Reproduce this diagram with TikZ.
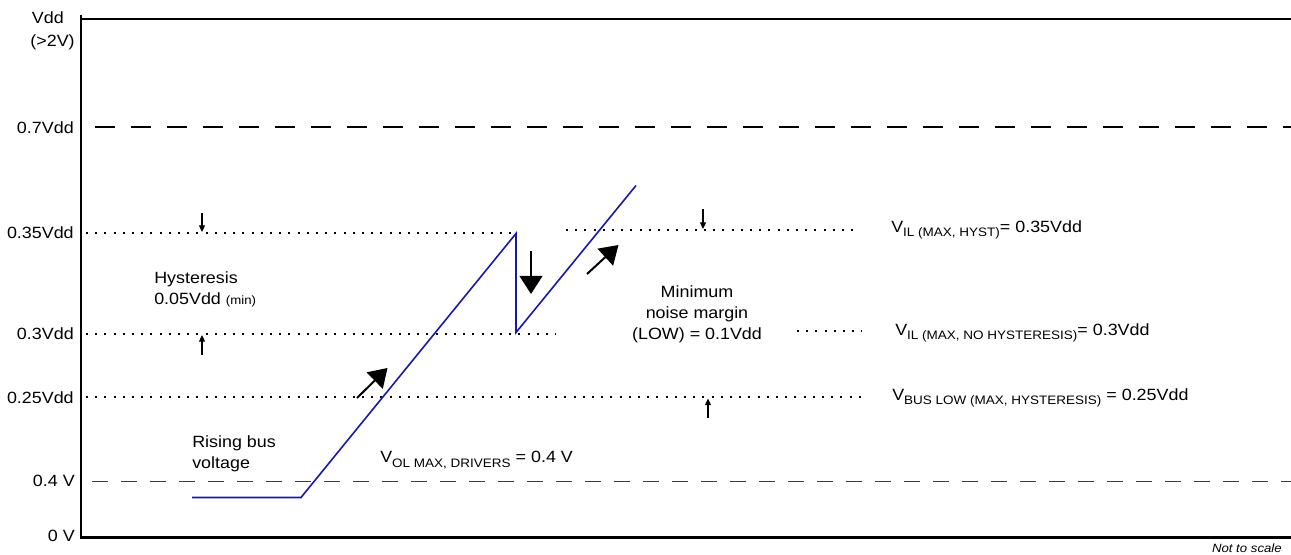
\documentclass[tikz,border=0pt]{standalone}
\usepackage{fontspec}
\setmainfont{Liberation Sans}
\usetikzlibrary{arrows.meta}
\definecolor{wave}{RGB}{25,25,165}
\definecolor{dashgray}{RGB}{60,60,60}
\newcommand\lsub[1]{\raisebox{-0.5ex}{\fontsize{9.2}{10}\selectfont #1}}
\begin{document}
\begin{tikzpicture}[x=0.75pt,y=-0.75pt,
  lbl/.style={font=\fontsize{12.2}{15.75}\selectfont, inner sep=0pt, xscale=1.1, transform shape},
  note/.style={font=\fontsize{9}{10}\selectfont\itshape, inner sep=0pt, xscale=1.1, transform shape},
  axisline/.style={line width=1.9pt},
  dotline/.style={line width=1.5pt, dash pattern=on 1.5pt off 5.4pt},
  bigdash/.style={line width=1.5pt, dash pattern=on 15pt off 12pt},
  smalldash/.style={line width=1.1pt, dashgray, dash pattern=on 12pt off 9.75pt},
  wavepath/.style={wave, line width=1.2pt},
  bigarrow/.style={line width=1.5pt, -{Triangle[length=13.5pt,width=17pt]}},
  tinyarrow/.style={line width=0.8pt, -{Triangle[length=5pt,width=4.5pt]}}
]
\useasboundingbox (0,0) rectangle (1291,555);

% axes
\coordinate (axtop) at (81,15);
\coordinate (axorig) at (81,537.5);
\coordinate (topend) at (1291,19);
\coordinate (botend) at (1291,537.5);
\draw[axisline] (axtop) -- (axorig) -- (botend);
\draw[axisline] (81,19) -- (topend);

% level lines
\draw[bigdash] (95,127) -- (1291,127);
\draw[dotline] (86,233) -- (513,233);
\draw[dotline] (566,230) -- (858,230);
\draw[dotline] (86,334) -- (556,334);
\draw[dotline] (797,331) -- (862,331);
\draw[dotline] (86,397.5) -- (862,397.5);
\draw[smalldash] (92,481.5) -- (1291,481.5);

% axis labels
\node[lbl, anchor=east] (lvdd) at (64,18) {Vdd};
\node[lbl, anchor=east] (lvdd2) at (75,42) {(>2V)};
\node[lbl, anchor=east] (l07) at (74,127.5) {0.7Vdd};
\node[lbl, anchor=east] (l035) at (74,233) {0.35Vdd};
\node[lbl, anchor=east] (l03) at (74,334) {0.3Vdd};
\node[lbl, anchor=east] (l025) at (74,397.5) {0.25Vdd};
\node[lbl, anchor=east] (l04) at (75,481) {0.4 V};
\node[lbl, anchor=east] (l0) at (75,535.5) {0 V};

% waveform
\coordinate (w0) at (192,497.5);
\coordinate (w1) at (301,497.5);
\coordinate (w2) at (516,233.5);
\coordinate (w3) at (516,332.5);
\coordinate (w4) at (636,185.5);
\draw[wavepath] (w0) -- (w1) -- (w2) -- (w3) -- (w4);

% big arrows
\coordinate (a1s) at (357,398);
\coordinate (a1e) at (387.5,368);
\coordinate (a2s) at (531,251);
\coordinate (a2e) at (531,294);
\coordinate (a3s) at (587,274);
\coordinate (a3e) at (618.5,245);
\draw[bigarrow] (a1s) -- (a1e);
\draw[bigarrow] (a2s) -- (a2e);
\draw[bigarrow] (a3s) -- (a3e);

% small arrows
\coordinate (h1s) at (202,213);
\coordinate (h1e) at (202,232);
\coordinate (h2s) at (202,355);
\coordinate (h2e) at (202,335);
\coordinate (m1s) at (703,209);
\coordinate (m1e) at (703,229);
\coordinate (m2s) at (708,418);
\coordinate (m2e) at (708,398.5);
\draw[tinyarrow] (h1s) -- (h1e);
\draw[tinyarrow] (h2s) -- (h2e);
\draw[tinyarrow] (m1s) -- (m1e);
\draw[tinyarrow] (m2s) -- (m2e);

% annotations
\node[lbl, anchor=west, align=left] (hyst) at (154,289.5) {Hysteresis\\0.05Vdd {\fontsize{9}{10}\selectfont (min)}};
\node[lbl, anchor=west, align=left] (rising) at (192,454) {Rising bus\\voltage};
\node[lbl, anchor=west] (vol) at (380,460) {V\lsub{OL MAX, DRIVERS} = 0.4 V};
\node[lbl, align=center] (nm) at (697,314.5) {Minimum\\noise margin\\(LOW) = 0.1Vdd};
\node[lbl, anchor=west] (vil1) at (891,230) {V\lsub{IL (MAX, HYST)}= 0.35Vdd};
\node[lbl, anchor=west] (vil2) at (895,333) {V\lsub{IL (MAX, NO HYSTERESIS)}= 0.3Vdd};
\node[lbl, anchor=west] (vbus) at (892,398) {V\lsub{BUS LOW (MAX, HYSTERESIS)} = 0.25Vdd};
\node[note, anchor=east] (nts) at (1282,548) {Not to scale};
\end{tikzpicture}
\end{document}
